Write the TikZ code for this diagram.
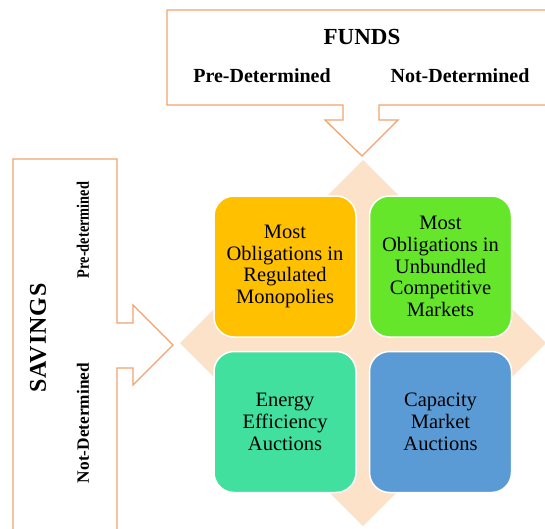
\documentclass[tikz,border=0pt]{standalone}
\usepackage{fontspec}
\setmainfont{Liberation Serif}
\definecolor{calloutline}{HTML}{F2A46E}
\definecolor{diamondfill}{HTML}{FBE2C9}
\definecolor{boxorange}{HTML}{FFC000}
\definecolor{boxgreen}{HTML}{66E62B}
\definecolor{boxteal}{HTML}{42E09F}
\definecolor{boxblue}{HTML}{5B9BD5}
\begin{document}
\begin{tikzpicture}[x=1pt,y=-1pt,
  callout/.style={draw=calloutline, fill=white, line width=1.3pt, line join=miter},
  quad/.style={draw=white, line width=1.5pt, rounded corners=20pt,
    minimum width=142pt, minimum height=141pt, align=center, inner sep=0pt,
    font=\fontsize{20.5}{21.7}\selectfont},
  head/.style={font=\bfseries\fontsize{23}{26}\selectfont, inner sep=0pt},
  sub/.style={font=\bfseries\fontsize{20}{24}\selectfont, inner sep=0pt}]
\useasboundingbox (0,0) rectangle (545,528);
\clip (0,0) rectangle (545,528);
\fill[white] (0,0) rectangle (545,528);

% background diamond
\fill[diamondfill] (363,160) -- (546,343) -- (363,526) -- (180,343) -- cycle;

% FUNDS callout pointing down
\draw[callout] (167,10) -- (600,10) -- (600,105) -- (379,105) -- (379,120)
  -- (398,120) -- (362,156) -- (325,120) -- (343,120) -- (343,105)
  -- (167,105) -- cycle;
\node[head] (funds) at (362,37) {FUNDS};
\node[sub] (fpre) at (262,76) {Pre-Determined};
\node[sub] (fnot) at (460,76) {Not-Determined};

% SAVINGS callout pointing right
\draw[callout] (13,159) -- (117,159) -- (117,323) -- (133,323) -- (133,305)
  -- (173,345) -- (133,385) -- (133,368) -- (117,368) -- (117,560)
  -- (13,560) -- cycle;
\node[head, rotate=90, font=\bfseries\fontsize{24}{28}\selectfont\addfontfeatures{LetterSpace=4}] (savings) at (38,338) {SAVINGS};
\node[sub, rotate=90, xscale=0.82, font=\bfseries\fontsize{17.5}{20}\selectfont] (spre) at (83,230) {Pre-determined};
\node[sub, rotate=90, font=\bfseries\fontsize{17.3}{20}\selectfont] (snot) at (83,423) {Not-Determined};

% four quadrants
\node[quad, fill=boxorange] (tl) at (285,266.5) {Most\\Obligations in\\Regulated\\Monopolies};
\node[quad, fill=boxgreen] (tr) at (440.5,266.5) {Most\\Obligations in\\Unbundled\\Competitive\\Markets};
\node[quad, fill=boxteal] (bl) at (285,422) {Energy\\Efficiency\\Auctions};
\node[quad, fill=boxblue] (br) at (440.5,422) {Capacity\\Market\\Auctions};
\end{tikzpicture}
\end{document}
